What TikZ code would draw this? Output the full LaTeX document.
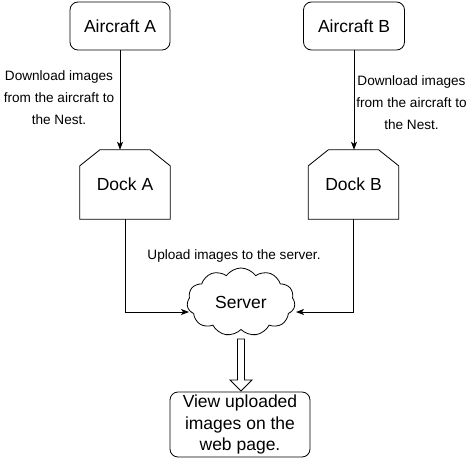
\documentclass[tikz,border=0pt]{standalone}
\usepackage{fontspec}
\setmainfont{Liberation Sans}
\usetikzlibrary{shapes.symbols,arrows.meta,calc}
\begin{document}
\begin{tikzpicture}[x=1pt,y=-1pt,
  box/.style={draw,rounded corners=8pt,line width=0.8pt,font=\fontsize{17.5}{21.5}\selectfont,align=center},
  plain/.style={font=\fontsize{13.6}{22}\selectfont,align=center,inner sep=0pt},
  conn/.style={line width=0.8pt,-{Stealth[length=8pt,width=6pt,inset=2pt]}},
  dock/.style={minimum width=90pt,minimum height=69pt,inner sep=0pt,font=\fontsize{17.5}{21}\selectfont}]
\useasboundingbox (0,0) rectangle (471,466);
\node[box,minimum width=100pt,minimum height=48pt] (acA) at (120,26) {Aircraft A};
\node[box,minimum width=101pt,minimum height=48pt] (acB) at (354,26) {Aircraft B};
\node[dock] (dockA) at (125,184.5) {Dock A};
\node[dock] (dockB) at (353.5,184.5) {Dock B};
\foreach \d in {dockA,dockB}{
  \draw[line width=0.8pt] ($(\d.north west)+(0,16)$) -- ($(\d.north west)+(20,0)$) -- ($(\d.north east)+(-20,0)$) -- ($(\d.north east)+(0,16)$) -- (\d.south east) -- (\d.south west) -- cycle;}
\node[cloud,draw,line width=0.8pt,cloud puffs=11,cloud puff arc=110,aspect=1.6,minimum width=108pt,minimum height=68pt,inner sep=0pt,font=\fontsize{17.5}{21}\selectfont] (srv) at (241,302) {Server};
\node[box,minimum width=140pt,minimum height=65pt,inner sep=2pt] (view) at (240,424.5) {View uploaded\\images on the\\web page.};
\node[plain] (lblA) at (59,98) {Download images\\from the aircraft to\\the Nest.};
\node[plain] (lblB) at (411.5,103) {Download images\\from the aircraft to\\the Nest.};
\node[plain] (lblS) at (234,256) {Upload images to the server.};
\draw[conn] (acA.south) -- (acA.south |- dockA.north);
\draw[conn] (acB.south) -- (acB.south |- dockB.north);
\coordinate (inL) at (189,312);
\coordinate (inR) at (296,312);
\draw[conn] (dockA.south) |- (inL);
\draw[conn] (dockB.south) |- (inR);
\coordinate (bt) at (241,339);
\coordinate (bb) at (241,391);
\draw[line width=0.8pt,fill=white] ($(bt)+(-3.5,0)$) -- ($(bb)+(-3.5,-11)$) -- ($(bb)+(-11,-11)$) -- (bb) -- ($(bb)+(11,-11)$) -- ($(bb)+(3.5,-11)$) -- ($(bt)+(3.5,0)$) -- cycle;
\end{tikzpicture}
\end{document}
